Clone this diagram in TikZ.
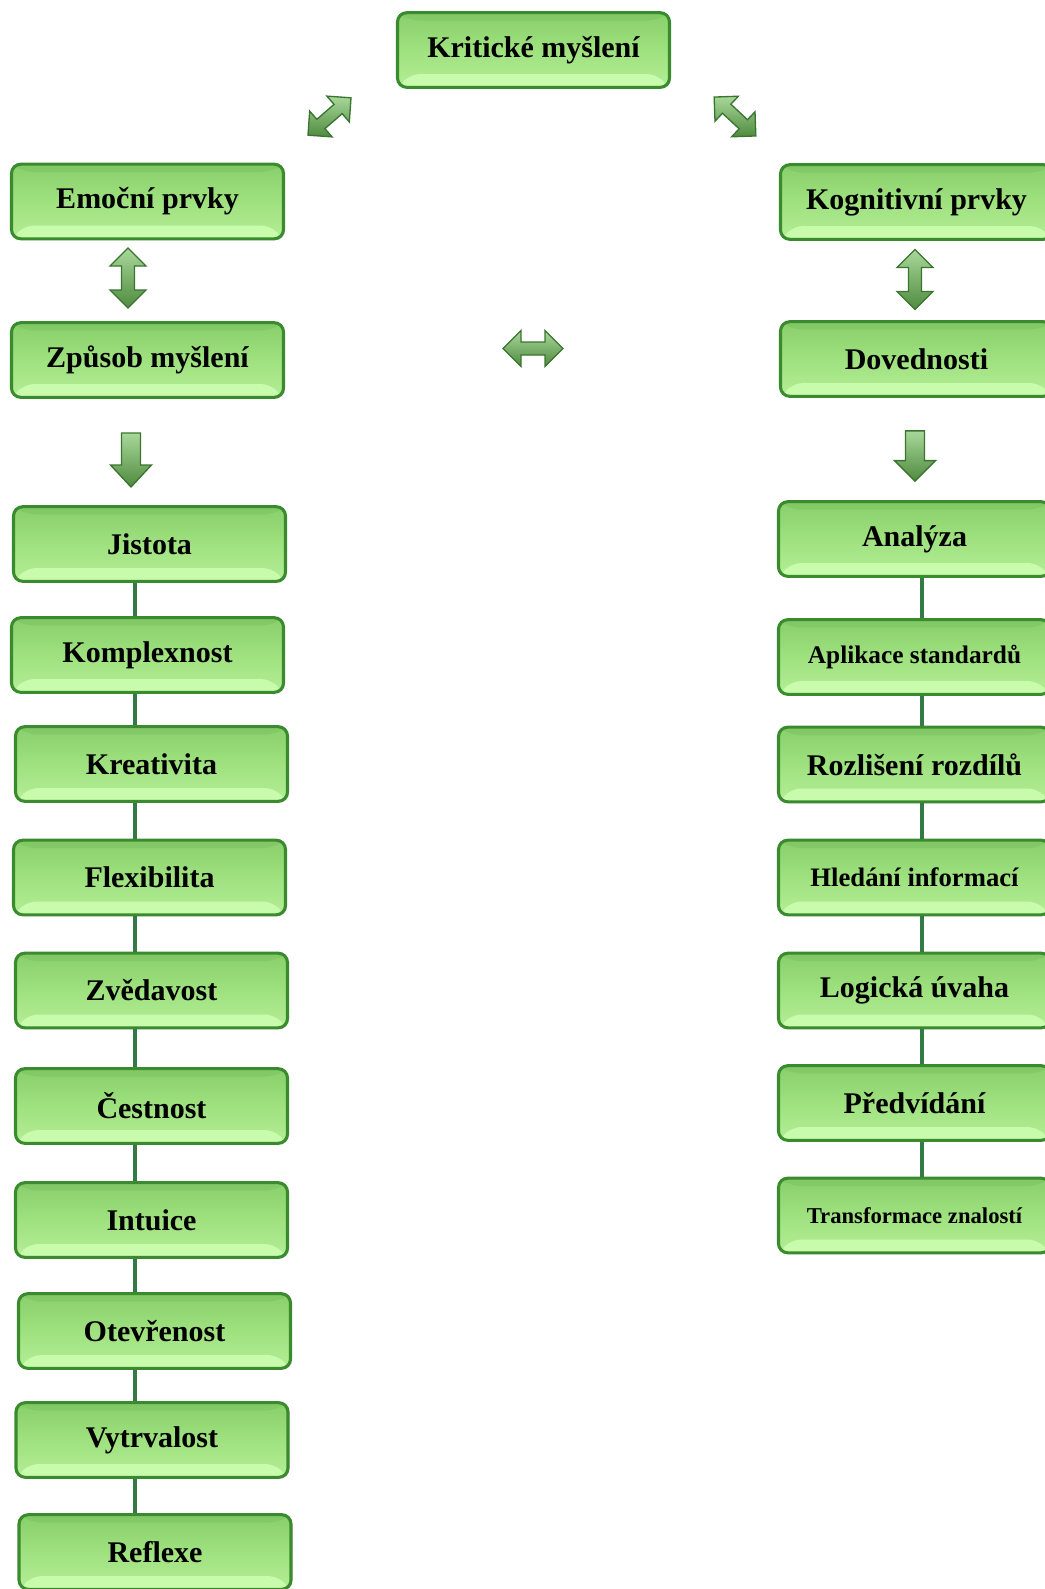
\documentclass[tikz,border=0pt]{standalone}
\usepackage{fontspec}
\setmainfont{Liberation Serif}
\usetikzlibrary{positioning}
\usetikzlibrary{shadows}

\definecolor{boxtop}{HTML}{88CF6B}
\definecolor{boxmid}{HTML}{9FE17F}
\definecolor{boxbot}{HTML}{B4EE96}
\definecolor{boxbev}{HTML}{C8FBAB}
\definecolor{boxbevtop}{HTML}{80C664}
\definecolor{boxline}{HTML}{3A8A2E}
\definecolor{spinecol}{HTML}{347A45}
\definecolor{arrtop}{HTML}{A9D89A}
\definecolor{arrbot}{HTML}{4F8A3F}
\definecolor{arrline}{HTML}{3A7530}

\tikzset{
	gbox/.style={draw=boxline, line width=2.3pt, rounded corners=7pt,
		top color=boxtop, bottom color=boxbot, middle color=boxmid,
		minimum width=204pt, minimum height=56pt, inner sep=0pt,
		font=\fontsize{22.5}{26}\selectfont\bfseries,
		path picture={
			\fill[boxbev] (path picture bounding box.south west)
				-- ([xshift=10pt,yshift=10pt]path picture bounding box.south west)
				-- ([xshift=-10pt,yshift=10pt]path picture bounding box.south east)
				-- (path picture bounding box.south east) -- cycle;
			\fill[boxbevtop, opacity=.7] (path picture bounding box.north west)
				-- ([xshift=10pt,yshift=-6pt]path picture bounding box.north west)
				-- ([xshift=-10pt,yshift=-6pt]path picture bounding box.north east)
				-- (path picture bounding box.north east) -- cycle;
		},
		drop shadow={shadow xshift=1pt, shadow yshift=-1pt, opacity=.35}},
	spine/.style={draw=spinecol, line width=3pt},
	arrowbody/.style={draw=arrline, line width=1pt, top color=arrtop, bottom color=arrbot},
	dblarrow/.pic={
		\draw[arrowbody] (-30,0) -- (-12,-18) -- (-12,-6.5) -- (12,-6.5) -- (12,-18)
			-- (30,0) -- (12,18) -- (12,6.5) -- (-12,6.5) -- (-12,18) -- cycle;
	},
	downarrow/.pic={
		\draw[arrowbody] (-9.5,-27) -- (9.5,-27) -- (9.5,5) -- (20.5,5) -- (0,27)
			-- (-20.5,5) -- (-9.5,5) -- cycle;
	}
}

\begin{document}
\begin{tikzpicture}[x=0.75pt, y=-0.75pt]
	\useasboundingbox (0,0) rectangle (1045,1589);

	\node [gbox] (krit) at (533.5,50) {Kritické myšlení};
	\node [gbox] (emoc) at (147.5,201.5) {Emoční prvky};
	\node [gbox] (zpusob) at (147.5,360) {Způsob myšlení};
	\node [gbox] (kogn) at (916.5,202) {Kognitivní prvky};
	\node [gbox] (doved) at (916.5,359) {Dovednosti};

	% block arrows
	\pic [rotate=41, scale=.95] at (329.5,116.5) {dblarrow};
	\pic [rotate=-43, scale=.95] at (735,116.5) {dblarrow};
	\pic [rotate=90] at (128,278) {dblarrow};
	\pic [rotate=90] at (915,279.5) {dblarrow};
	\pic at (533,348.5) {dblarrow};
	\pic at (131,460) {downarrow};
	\pic [yscale=.93] at (915,456) {downarrow};

	% left column
	\foreach \name/\x/\y/\txt in {
		jistota/149.5/544/Jistota, komplex/147.5/655/Komplexnost,
		kreativ/151.5/764/Kreativita, flexib/149.5/877.5/Flexibilita,
		zvedav/151.5/990.5/Zvědavost, cestnost/151.5/1106/Čestnost,
		intuice/151.5/1220/Intuice, otevren/154.5/1331/Otevřenost,
		vytrval/152/1440/Vytrvalost, reflexe/155/1552/Reflexe} {
		\node [gbox] (\name) at (\x,\y) {\txt};
	}

	% right column
	\foreach \name/\y/\sz/\txt in {
		analyza/539/22.5/Analýza, aplikace/657/19/Aplikace standardů,
		rozlis/764.5/22.5/Rozlišení rozdílů, hledani/877.5/20/Hledání informací,
		logicka/990.5/22.5/Logická úvaha, predvid/1103/22.5/Předvídání,
		transf/1215.5/17/Transformace znalostí} {
		\node [gbox, font=\fontsize{\sz}{\sz}\selectfont\bfseries] (\name) at (914.5,\y) {\txt};
	}

	\coordinate (lspine) at (135,0);
	\coordinate (rspine) at (922,0);

	\foreach \a/\b in {jistota/komplex, komplex/kreativ, kreativ/flexib, flexib/zvedav,
		zvedav/cestnost, cestnost/intuice, intuice/otevren, otevren/vytrval, vytrval/reflexe} {
		\draw [spine] (\a.south -| lspine) -- (\b.north -| lspine);
	}
	\foreach \a/\b in {analyza/aplikace, aplikace/rozlis, rozlis/hledani, hledani/logicka,
		logicka/predvid, predvid/transf} {
		\draw [spine] (\a.south -| rspine) -- (\b.north -| rspine);
	}
\end{tikzpicture}
\end{document}
